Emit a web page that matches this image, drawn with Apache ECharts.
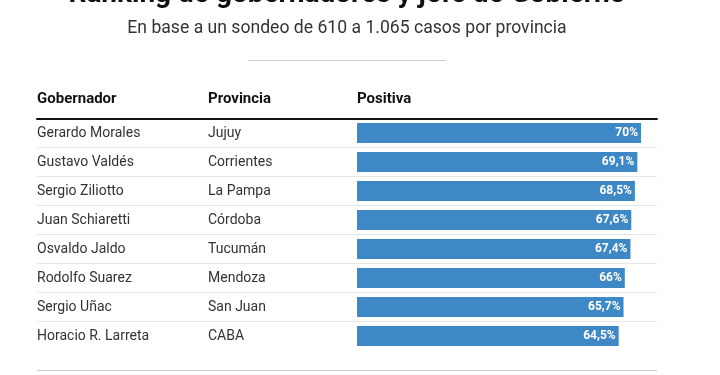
<!DOCTYPE html>
<html>
<head>
<meta charset="utf-8">
<script src="https://cdn.jsdelivr.net/npm/echarts@6/dist/echarts.min.js"></script>
<style>
  html, body { margin: 0; padding: 0; background: #fff; }
  #chart { width: 720px; height: 375px; }
</style>
</head>
<body>
<div id="chart"></div>
<script>
// datos de la tabla
var gobernadores = ['Gerardo Morales', 'Gustavo Valdés', 'Sergio Ziliotto', 'Juan Schiaretti',
  'Osvaldo Jaldo', 'Rodolfo Suarez', 'Sergio Uñac', 'Horacio R. Larreta'];
var provincias = ['Jujuy', 'Corrientes', 'La Pampa', 'Córdoba', 'Tucumán', 'Mendoza', 'San Juan', 'CABA'];
var positiva = [70, 69.1, 68.5, 67.6, 67.4, 66, 65.7, 64.5];

var FONT = 'Roboto, "Liberation Sans", sans-serif';

var chart = echarts.init(document.getElementById('chart'));
chart.setOption({
  animation: false,
  grid: [
    { left: 357, right: 79, top: 118.5, height: 232 },
    // separadores entre filas (sin linea bajo la ultima)
    { left: 37, right: 63, top: 118.5, height: 203 }
  ],
  xAxis: [
    { type: 'value', gridIndex: 0, min: 0, max: 70, show: false },
    {
      type: 'value', gridIndex: 1, min: 0, max: 1, position: 'top',
      axisLine: { show: true, lineStyle: { color: '#111', width: 2 } },
      axisTick: { show: false }, axisLabel: { show: false }, splitLine: { show: false }
    }
  ],
  yAxis: [
    {
      type: 'category', gridIndex: 0, inverse: true,
      data: gobernadores,
      axisLine: { show: false }, axisTick: { show: false }, splitLine: { show: false },
      axisLabel: {
        align: 'left',
        margin: 320,
        formatter: function (v, i) {
          return '{a|' + v + '}{b|' + provincias[i] + '}';
        },
        rich: {
          a: { width: 171, fontSize: 14, color: '#333', fontFamily: FONT },
          b: { fontSize: 14, color: '#333', fontFamily: FONT }
        }
      }
    },
    {
      type: 'category', gridIndex: 1, inverse: true,
      data: gobernadores.slice(0, gobernadores.length - 1),
      axisLine: { show: false }, axisTick: { show: false }, axisLabel: { show: false },
      splitLine: {
        show: true,
        interval: 0,
        lineStyle: { color: '#e6e6e6', width: 1 }
      }
    }
  ],
  series: [{
    type: 'bar',
    xAxisIndex: 0, yAxisIndex: 0,
    data: positiva,
    barWidth: 20,
    itemStyle: { color: '#3e89c5' },
    label: {
      show: true,
      position: 'insideRight',
      distance: 3,
      color: '#fff',
      fontSize: 12,
      fontWeight: 'bold',
      fontFamily: FONT,
      formatter: function (p) {
        return String(p.value).replace('.', ',') + '%';
      }
    }
  }],
  graphic: [
    {
      type: 'text', x: 347, y: -19.5,
      style: {
        text: 'Ranking de gobernadores y jefe de Gobierno',
        font: 'bold 28px ' + FONT, fill: '#111', textAlign: 'center'
      }
    },
    {
      type: 'text', x: 347, y: 29,
      style: {
        text: 'En base a un sondeo de 610 a 1.065 casos por provincia',
        font: '17.6px ' + FONT, fill: '#333', textAlign: 'center', textVerticalAlign: 'middle'
      }
    },
    {
      type: 'line', shape: { x1: 248, y1: 60.5, x2: 446, y2: 60.5 },
      style: { stroke: '#cccccc', lineWidth: 1 }
    },
    {
      type: 'text', x: 37, y: 99,
      style: { text: 'Gobernador', font: 'bold 15px ' + FONT, fill: '#111', textVerticalAlign: 'middle' }
    },
    {
      type: 'text', x: 208, y: 99,
      style: { text: 'Provincia', font: 'bold 15px ' + FONT, fill: '#111', textVerticalAlign: 'middle' }
    },
    {
      type: 'text', x: 357, y: 99,
      style: { text: 'Positiva', font: 'bold 15px ' + FONT, fill: '#111', textVerticalAlign: 'middle' }
    },
    {
      type: 'line', shape: { x1: 37, y1: 370.5, x2: 657, y2: 370.5 },
      style: { stroke: '#cccccc', lineWidth: 1 }
    }
  ]
});
</script>
</body>
</html>
